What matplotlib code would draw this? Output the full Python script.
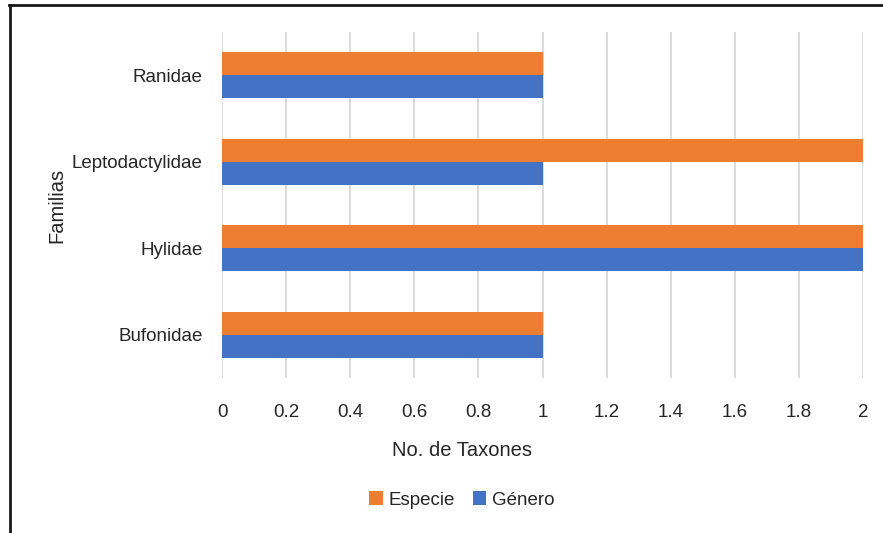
import matplotlib
matplotlib.use("Agg")
import matplotlib.pyplot as plt
from matplotlib.lines import Line2D
import numpy as np

plt.rcParams['font.family'] = ['Liberation Sans', 'DejaVu Sans']

familias = ['Bufonidae', 'Hylidae', 'Leptodactylidae', 'Ranidae']
genero = [1, 2, 1, 1]
especie = [1, 2, 2, 1]
x_ticks = [0, 0.2, 0.4, 0.6, 0.8, 1, 1.2, 1.4, 1.6, 1.8, 2]
x_labels = ['0', '0.2', '0.4', '0.6', '0.8', '1', '1.2', '1.4', '1.6', '1.8', '2']

c_esp = '#ED7D31'
c_gen = '#4472C4'
txt = '#262626'

fig = plt.figure(figsize=(8.83, 5.33), dpi=100)
ax = fig.add_axes([222 / 883, 1 - 378 / 533, 641 / 883, 346 / 533])

y = np.arange(len(familias))
h = 0.266
ax.barh(y - h / 2, genero, height=h, color=c_gen, label='Género', zorder=3)
ax.barh(y + h / 2, especie, height=h, color=c_esp, label='Especie', zorder=3)

ax.set_xlim(0, 2)
ax.set_ylim(-0.5, 3.5)
ax.set_xticks(x_ticks)
ax.set_xticklabels(x_labels)
ax.set_yticks(y)
ax.set_yticklabels(familias)
ax.tick_params(axis='both', length=0, labelsize=13.5, colors=txt)
ax.tick_params(axis='x', pad=19)
ax.tick_params(axis='y', pad=14)
ax.grid(axis='x', color='#d9d9d9', linewidth=1.3, zorder=0)
for s in ax.spines.values():
    s.set_visible(False)

fig.text(462 / 883, 1 - 450 / 533, 'No. de Taxones', ha='center', va='center',
         fontsize=14.5, color=txt)
fig.text(57 / 883, 1 - 205 / 533, 'Familias', ha='center', va='center',
         rotation=90, fontsize=14.5, color=txt)

handles, labels = ax.get_legend_handles_labels()
leg = fig.legend(handles[::-1], labels[::-1], loc='center',
                 bbox_to_anchor=(462 / 883, 1 - 500 / 533), ncol=2, frameon=False,
                 fontsize=13.5, handlelength=0.7, handleheight=0.7,
                 handletextpad=0.3, columnspacing=1.0)
for t in leg.get_texts():
    t.set_color(txt)

# chart border (top and left edges)
fig.add_artist(Line2D([9 / 883, 1], [1 - 4.5 / 533, 1 - 4.5 / 533], color='#1a1a1a', lw=2))
fig.add_artist(Line2D([9.5 / 883, 9.5 / 883], [0, 1 - 4.5 / 533], color='#1a1a1a', lw=2))

fig.savefig('out.png', dpi=100)
